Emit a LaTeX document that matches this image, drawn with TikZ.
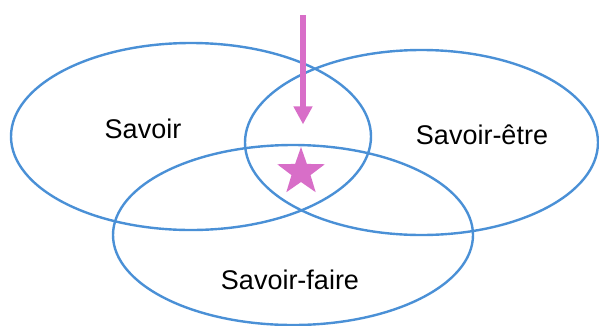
\documentclass[tikz,border=0pt]{standalone}
\usepackage{fontspec}
\setmainfont{Liberation Sans}
\usetikzlibrary{
  arrows.meta,
  positioning,
  shapes.geometric
}
\definecolor{venblue}{RGB}{74,144,214}
\definecolor{orchid}{RGB}{216,110,200}

\begin{document}
\begin{tikzpicture}[
  x=1pt, y=-1pt,
  font=\fontsize{27}{30}\selectfont,
  setline/.style={
    draw=venblue,
    line width=2.4pt
  },
  setlabel/.style={
    inner sep=0pt,
    text=black
  },
  markstar/.style={
    star,
    star points=5,
    star point ratio=2.5,
    minimum size=50pt,
    inner sep=0pt,
    fill=orchid,
    draw=none
  },
  pointer/.style={
    -{Triangle[length=18pt, width=18pt]},
    draw=orchid,
    line width=6pt
  }
]
\useasboundingbox (0,0) rectangle (599,325);

% the three sets
\draw[setline] (191,136.5) ellipse [x radius=180pt, y radius=93.5pt];
\draw[setline] (421.5,142.5) ellipse [x radius=176.5pt, y radius=92.5pt];
\draw[setline] (293,235) ellipse [x radius=180pt, y radius=90pt];

\node[setlabel] (savoir) at (143,129) {Savoir};
\node[setlabel] (etre) at (482,135) {Savoir-être};
\node[setlabel] (faire) at (290,280) {Savoir-faire};

% centre mark
\node[markstar] (mark) at (301,172) {};
\coordinate (top) at (303,15);
\draw[pointer, shorten >=22pt] (top) -- (top |- mark.north);

\end{tikzpicture}
\end{document}
